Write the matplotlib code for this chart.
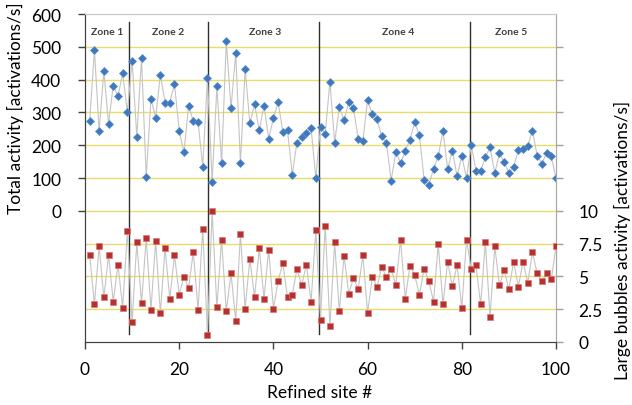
import matplotlib
matplotlib.use("Agg")
import matplotlib.pyplot as plt
import numpy as np

site = list(range(1, 101))
total_activity = [275, 490, 244, 425, 265, 382, 349, 419, 302, 457,
                  226, 465, 102, 341, 284, 415, 330, 330, 386, 243,
                  179, 319, 274, 271, 135, 405, 87, 379, 146, 517,
                  313, 480, 146, 432, 267, 325, 245, 321, 220, 282,
                  331, 241, 246, 110, 208, 226, 237, 252, 100, 257,
                  234, 394, 208, 316, 276, 332, 313, 219, 213, 337,
                  295, 279, 227, 207, 92, 180, 145, 183, 217, 270,
                  230, 95, 78, 128, 166, 244, 127, 183, 105, 166,
                  101, 201, 122, 121, 163, 193, 115, 175, 148, 116,
                  134, 184, 189, 199, 244, 168, 144, 176, 166, 99]
large_bubbles = [6.62, 2.87, 7.28, 3.40, 6.62, 3.07, 5.90, 2.62, 8.45, 1.51,
                 7.59, 2.97, 7.90, 2.46, 7.70, 2.21, 7.18, 3.26, 6.62, 3.61,
                 4.96, 4.14, 6.87, 2.46, 8.63, 0.57, 10.0, 2.63, 7.80, 2.35,
                 5.25, 1.60, 8.22, 2.55, 6.33, 3.40, 7.16, 3.28, 7.05, 2.55,
                 4.65, 6.00, 3.40, 3.61, 5.57, 4.33, 5.88, 3.07, 8.50, 1.71,
                 8.87, 1.20, 7.59, 2.35, 6.56, 3.69, 4.85, 4.03, 6.61, 2.22,
                 4.95, 4.22, 5.70, 4.96, 5.57, 4.35, 7.80, 3.27, 5.82, 5.09,
                 3.61, 5.57, 4.65, 3.07, 7.48, 2.87, 6.13, 4.24, 5.86, 2.61,
                 7.79, 5.56, 5.86, 2.87, 7.59, 1.90, 7.28, 4.31, 5.48, 4.01,
                 6.12, 4.21, 6.12, 4.52, 6.85, 5.23, 4.62, 5.23, 4.77, 7.28]
zone_bounds = [9.4, 26.2, 49.6, 81.7]
zone_names = ["Zone 1", "Zone 2", "Zone 3", "Zone 4", "Zone 5"]
zone_label_x = [4.7, 17.6, 38.2, 66.5, 90.4]
left_ticks = [0, 100, 200, 300, 400, 500, 600]
right_tick_labels = ["0", "2.5", "5", "7.5", "10"]
x_ticks = [0, 20, 40, 60, 80, 100]

FONT = "Lato"
plt.rcParams["font.family"] = [FONT, "DejaVu Sans"]

fig = plt.figure(figsize=(6.32, 4.06), dpi=100)
ax = fig.add_axes([85/632, 1-343/406, (556-85)/632, (343-15)/406])
ax2 = ax.twinx()

yellow = "#e9dc6a"
for v in range(-300, 600, 100):
    ax.axhline(v, color=yellow, lw=1.0, zorder=0)

for b in zone_bounds:
    ax.axvline(b, ymin=0.024, ymax=0.976, color="#303030", lw=1.0, zorder=1)

ax.plot(site, total_activity, color="#c4c4c4", lw=0.8, zorder=2)
ax.plot(site, total_activity, ls="none", marker="D", ms=4.4,
        mfc="#3f78bd", mec="#5a8fd0", mew=0.5, zorder=3)
ax2.plot(site, large_bubbles, color="#c4c4c4", lw=0.8, zorder=2)
ax2.plot(site, large_bubbles, ls="none", marker="s", ms=4.6,
         mfc="#b8302e", mec="#d87a78", mew=0.5, zorder=3)

for name, zx in zip(zone_names, zone_label_x):
    ax.text(zx, 548, name, ha="center", va="center", fontsize=7.5,
            fontweight="bold", color="#404040")

ax.set_xlim(0, 100)
ax.set_ylim(-400, 600)
ax2.set_ylim(0, 25)

ax.set_xticks(x_ticks)
ax.set_xticklabels([str(t) for t in x_ticks])
ax.set_yticks(left_ticks)
ax.set_yticklabels([str(t) for t in left_ticks])
r_ticks = list(np.arange(0, 25, 2.5))
ax2.set_yticks(r_ticks)
ax2.set_yticklabels(right_tick_labels + [""] * (len(r_ticks) - len(right_tick_labels)))

ax.tick_params(axis="x", direction="out", length=5, width=1, color="#404040",
               labelsize=12.5, pad=9, labelcolor="black")
ax.tick_params(axis="y", direction="out", length=5, width=1, color="#404040",
               labelsize=12.5, pad=12, labelcolor="black")
ax2.tick_params(axis="y", direction="out", length=5, width=1, color="#a0a0a0",
                labelsize=12.5, pad=11, labelcolor="black")

for a in (ax, ax2):
    a.spines["left"].set_color("#404040")
    a.spines["bottom"].set_color("#404040")
    a.spines["top"].set_color("#c8c8c8")
    a.spines["right"].set_color("#a8a8a8")
ax2.patch.set_visible(False)

fig.text(320/632, 1-393/406, "Refined site #", ha="center", va="center", fontsize=12.5)
fig.text(15/632, 1-108/406, "Total activity [activations/s]", ha="center", va="center",
         rotation=90, fontsize=12.5)
fig.text(622/632, 1-240/406, "Large bubbles activity [activations/s]", ha="center", va="center",
         rotation=90, fontsize=12.5)

fig.savefig("out.png", dpi=100)
